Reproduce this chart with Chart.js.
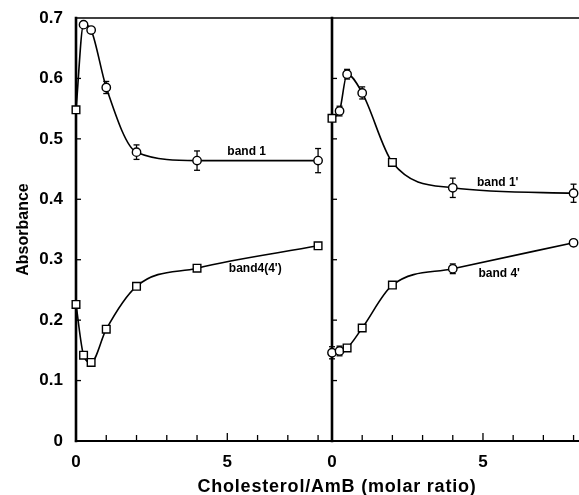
<!DOCTYPE html>
<html>
<head>
<meta charset="utf-8">
<script src="https://cdn.jsdelivr.net/npm/chart.js@4/dist/chart.umd.min.js"></script>
<style>
  html, body { margin:0; padding:0; background:#fff; }
  #page { position:relative; width:579px; height:495px; overflow:hidden; background:#fff; }
  #wrapL { position:absolute; left:0; top:0; width:332px; height:495px; }
  #wrapR { position:absolute; left:326px; top:0; width:253px; height:495px; }
  #xtitle { position:absolute; left:137px; width:400px; top:476px; line-height:20px; text-align:center;
            font:bold 18px "Liberation Sans", Arial, sans-serif; letter-spacing:0.8px; color:#000; }
</style>
</head>
<body>
<div id="page">
  <div id="wrapL"><canvas id="leftChart" width="332" height="495"></canvas></div>
  <div id="wrapR"><canvas id="rightChart" width="253" height="495"></canvas></div>
  <div id="xtitle">Cholesterol/AmB (molar ratio)</div>
</div>
<script>
// Data
const ratios = [0, 0.25, 0.5, 1, 2, 4, 8];

// left panel
const band1    = [0.548, 0.689, 0.680, 0.585, 0.478, 0.464, 0.464];
const band1Err = [0, 0, 0, 0.010, 0.012, 0.016, 0.020];
const band4    = [0.226, 0.142, 0.130, 0.185, 0.256, 0.286, 0.323];
const band4Err = [0.006, 0.004, 0.004, 0.005, 0.004, 0.003, 0.003];

// right panel
const band1p    = [0.534, 0.546, 0.607, 0.576, 0.461, 0.419, 0.410];
const band1pErr = [0, 0.008, 0.008, 0.010, 0, 0.016, 0.015];
const band4p    = [0.146, 0.149, 0.154, 0.187, 0.258, 0.285, 0.328];
const band4pErr = [0.010, 0.008, 0.004, 0.005, 0.004, 0.008, 0.005];

const FONT = '"Liberation Sans", Arial, sans-serif';
const toXY = arr => arr.map((v, i) => ({ x: ratios[i], y: v }));

// frame, inside ticks and error bars, drawn under the markers
const framePlugin = {
  id: 'frame',
  beforeDatasetsDraw(chart) {
    const { ctx, chartArea: a, scales: { x, y } } = chart;
    const seg = (x1, y1, x2, y2, w) => {
      ctx.lineWidth = w;
      ctx.beginPath(); ctx.moveTo(x1, y1); ctx.lineTo(x2, y2); ctx.stroke();
    };
    ctx.save();
    ctx.strokeStyle = '#000';
    ctx.lineCap = 'square';
    seg(a.left, a.top, a.right, a.top, 1.6);
    seg(a.left, a.top, a.left, a.bottom, 2.6);
    seg(a.left, a.bottom, a.right, a.bottom, 2.2);
    ctx.lineCap = 'butt';
    y.ticks.forEach(t => {
      if (t.value <= 0 || t.value >= y.max - 1e-6) return;
      const py = y.getPixelForValue(t.value);
      seg(a.left, py, a.left + 5, py, 1.3);
    });
    x.ticks.forEach(t => {
      if (t.value <= 0 || Math.abs(t.value - Math.round(t.value)) > 1e-6) return;
      const px = x.getPixelForValue(t.value);
      seg(px, a.bottom, px, a.bottom - (t.value % 5 === 0 ? 8 : 6), 1.3);
    });
    // error bars
    chart.data.datasets.forEach(ds => {
      (ds.errors || []).forEach((e, i) => {
        if (!e) return;
        const px = x.getPixelForValue(ds.data[i].x);
        const top = y.getPixelForValue(ds.data[i].y + e);
        const bot = y.getPixelForValue(ds.data[i].y - e);
        seg(px, top, px, bot, 1.3);
        seg(px - 3, top, px + 3, top, 1.3);
        seg(px - 3, bot, px + 3, bot, 1.3);
      });
    });
    ctx.restore();
  },
  afterDraw(chart, args, opts) {
    const { ctx, scales: { x, y } } = chart;
    ctx.save();
    ctx.fillStyle = '#000';
    ctx.font = 'bold 12px ' + FONT;
    ctx.textBaseline = 'middle';
    (opts.notes || []).forEach(n => {
      ctx.fillText(n.text, x.getPixelForValue(n.x), y.getPixelForValue(n.y));
    });
    ctx.restore();
  }
};

function series(values, errors, styles) {
  return {
    data: toXY(values),
    errors: errors,
    borderColor: '#000',
    borderWidth: 1.6,
    cubicInterpolationMode: 'monotone',
    pointStyle: styles,
    pointRadius: styles.map(s => s === 'rect' ? 5.4 : 4.2),
    pointBorderWidth: 1.4,
    pointBorderColor: '#000',
    pointBackgroundColor: '#fff',
    clip: false
  };
}

function options(side, xMax, notes) {
  const left = side === 'left';
  return {
    responsive: false,
    animation: false,
    layout: { autoPadding: false, padding: { top: 18, left: left ? 0 : 6, right: 0, bottom: 0 } },
    plugins: { legend: { display: false }, tooltip: { enabled: false }, frame: { notes } },
    scales: {
      x: {
        type: 'linear', min: 0, max: xMax,
        grid: { display: false, drawTicks: false },
        border: { display: false },
        ticks: {
          stepSize: 1, includeBounds: false, autoSkip: false, maxRotation: 0, padding: 11,
          color: '#000', font: { family: FONT, size: 17, weight: 'bold' },
          callback: v => (v % 5 === 0 ? String(v) : '')
        },
        afterFit: s => { s.height = 54; s.paddingLeft = 0; s.paddingRight = 0; }
      },
      y: {
        display: left,
        min: 0, max: 0.7,
        grid: { display: false, drawTicks: false },
        border: { display: false },
        ticks: {
          stepSize: 0.1, padding: 13, color: '#000',
          font: { family: FONT, size: 17, weight: 'bold' },
          callback: v => (v === 0 ? '0' : v.toFixed(1))
        },
        title: {
          display: true, text: 'Absorbance', color: '#000',
          font: { family: FONT, size: 16, weight: 'bold' },
          padding: { top: 14, bottom: 0 }
        },
        afterFit: s => { s.width = left ? 76 : 0; s.paddingTop = 0; s.paddingBottom = 0; }
      }
    }
  };
}

new Chart(document.getElementById('leftChart'), {
  type: 'line',
  data: {
    datasets: [
      series(band1, band1Err, ['rect', 'circle', 'circle', 'circle', 'circle', 'circle', 'circle']),
      series(band4, band4Err, ['rect', 'rect', 'rect', 'rect', 'rect', 'rect', 'rect'])
    ]
  },
  options: options('left', 8.46, [
    { text: 'band 1', x: 5.0, y: 0.478 },
    { text: "band4(4')", x: 5.05, y: 0.285 }
  ]),
  plugins: [framePlugin]
});

new Chart(document.getElementById('rightChart'), {
  type: 'line',
  data: {
    datasets: [
      series(band1p, band1pErr, ['rect', 'circle', 'circle', 'circle', 'rect', 'circle', 'circle']),
      series(band4p, band4pErr, ['circle', 'circle', 'rect', 'rect', 'rect', 'circle', 'circle'])
    ]
  },
  options: options('right', 8.18, [
    { text: "band 1'", x: 4.8, y: 0.428 },
    { text: "band 4'", x: 4.85, y: 0.277 }
  ]),
  plugins: [framePlugin]
});
</script>
</body>
</html>
